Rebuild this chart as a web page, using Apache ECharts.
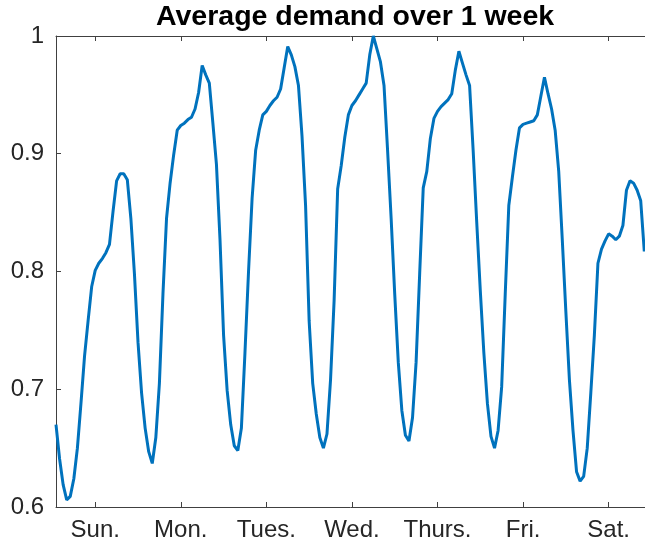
<!DOCTYPE html>
<html>
<head>
<meta charset="utf-8">
<script src="https://cdn.jsdelivr.net/npm/echarts@6/dist/echarts.min.js"></script>
<style>
  html, body { margin: 0; padding: 0; background: #fff; }
  #chart { width: 645px; height: 550px; }
</style>
</head>
<body>
<div id="chart"></div>
<script>
// hourly average demand, hour 1 = Sunday 00:00 (last hours are cut off by the figure edge)
const demand = [
  0.670, 0.641, 0.619, 0.606, 0.609, 0.624, 0.650, 0.688, 0.728, 0.758, 0.787, 0.801,
  0.807, 0.811, 0.816, 0.823, 0.851, 0.877, 0.883, 0.883, 0.878, 0.845, 0.798, 0.740,
  0.697, 0.667, 0.647, 0.637, 0.659, 0.705, 0.781, 0.845, 0.875, 0.899, 0.920, 0.924,
  0.926, 0.929, 0.931, 0.938, 0.952, 0.975, 0.967, 0.960, 0.926, 0.891, 0.827, 0.746,
  0.699, 0.670, 0.652, 0.648, 0.667, 0.731, 0.800, 0.862, 0.903, 0.920, 0.933, 0.936,
  0.941, 0.945, 0.948, 0.955, 0.973, 0.991, 0.984, 0.974, 0.958, 0.915, 0.856, 0.758,
  0.705, 0.679, 0.659, 0.650, 0.662, 0.708, 0.775, 0.870, 0.890, 0.914, 0.933, 0.941,
  0.945, 0.950, 0.955, 0.960, 0.984, 1.000, 0.989, 0.978, 0.958, 0.903, 0.845, 0.781,
  0.723, 0.682, 0.661, 0.656, 0.676, 0.723, 0.798, 0.871, 0.885, 0.913, 0.930, 0.936,
  0.940, 0.943, 0.946, 0.951, 0.971, 0.987, 0.977, 0.967, 0.958, 0.903, 0.842, 0.784,
  0.731, 0.688, 0.660, 0.650, 0.665, 0.702, 0.781, 0.856, 0.880, 0.903, 0.922, 0.925,
  0.926, 0.927, 0.928, 0.933, 0.949, 0.965, 0.951, 0.938, 0.920, 0.885, 0.827, 0.766,
  0.708, 0.665, 0.630, 0.622, 0.626, 0.650, 0.697, 0.746, 0.807, 0.819, 0.826, 0.832,
  0.830, 0.827, 0.830, 0.839, 0.869, 0.877, 0.875, 0.869, 0.860, 0.817
];
const dayTicks = [12, 36, 60, 84, 108, 132, 156];
const dayNames = ['Sun.', 'Mon.', 'Tues.', 'Wed.', 'Thurs.', 'Fri.', 'Sat.'];
const yTicks = [0.6, 0.7, 0.8, 0.9, 1];

const font = "'Liberation Sans', Arial, Helvetica, sans-serif";
const axisColor = '#404040';
const textColor = '#262626';

const chart = echarts.init(document.getElementById('chart'));

// the figure is cut at the right edge, so the visible x range stops a bit before hour 168
const xCommon = {
  type: 'value',
  min: 1,
  max: 166.2,
  axisLine: { show: true, onZero: false, lineStyle: { color: axisColor, width: 1 } },
  axisTick: { show: true, inside: true, length: 5, customValues: dayTicks, lineStyle: { color: axisColor } },
  splitLine: { show: false }
};

let option = {
  backgroundColor: '#fff',
  animation: false,
  title: {
    text: 'Average demand over 1 week',
    left: 156,
    top: 3,
    padding: 0,
    textStyle: { fontFamily: font, fontSize: 28.5, fontWeight: 'bold', color: '#000' }
  },
  grid: { left: 56, top: 36, right: 0, height: 471 },
  xAxis: [
    Object.assign({}, xCommon, {
      position: 'bottom',
      axisLabel: {
        customValues: dayTicks,
        margin: 11,
        fontFamily: font,
        fontSize: 24,
        color: textColor,
        formatter: (v) => dayNames[dayTicks.indexOf(v)] || ''
      }
    }),
    Object.assign({}, xCommon, {
      position: 'top',
      axisLabel: { show: false }
    })
  ],
  yAxis: {
    type: 'value',
    min: 0.6,
    max: 1,
    interval: 0.1,
    axisLine: { show: true, lineStyle: { color: axisColor, width: 1 } },
    axisTick: { show: true, inside: true, length: 5, lineStyle: { color: axisColor } },
    axisLabel: {
      margin: 12,
      fontFamily: font,
      fontSize: 24,
      color: textColor,
      formatter: (v) => {
        const r = Math.round(v * 10) / 10;
        return yTicks.indexOf(r) >= 0 ? String(r) : '';
      }
    },
    splitLine: { show: false }
  },
  series: [
    {
      type: 'line',
      data: demand.map((v, i) => [i + 1, v]),
      showSymbol: false,
      smooth: false,
      lineStyle: { color: '#0072BD', width: 3 },
      itemStyle: { color: '#0072BD' }
    }
  ]
};
chart.setOption(option);
window.addEventListener('resize', () => {
  chart && chart.resize();
});
</script>
</body>
</html>
